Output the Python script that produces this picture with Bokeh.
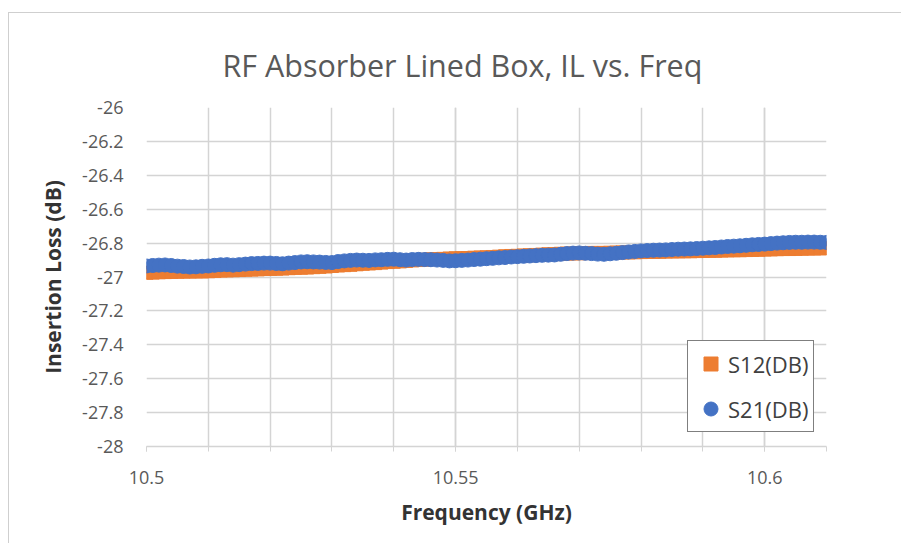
import numpy as np
from bokeh.plotting import figure
from bokeh.models import Range1d, FixedTicker, CustomJSTickFormatter, Legend, LegendItem
from bokeh.embed import file_html
from bokeh.resources import INLINE

# ---- data ----
freq_start = 10.5
freq_stop = 10.61
s12_db = [
    -26.975, -26.974, -26.972, -26.971, -26.970, -26.969, -26.968, -26.968, -26.967, -26.967,
    -26.966, -26.964, -26.962, -26.961, -26.960, -26.959, -26.957, -26.956, -26.955, -26.953,
    -26.952, -26.951, -26.950, -26.948, -26.946, -26.945, -26.944, -26.942, -26.940, -26.938,
    -26.935, -26.932, -26.930, -26.928, -26.925, -26.922, -26.920, -26.918, -26.915, -26.912,
    -26.910, -26.908, -26.905, -26.902, -26.900, -26.898, -26.895, -26.894, -26.893, -26.891,
    -26.890, -26.889, -26.888, -26.886, -26.885, -26.884, -26.882, -26.880, -26.878, -26.876,
    -26.875, -26.873, -26.872, -26.870, -26.868, -26.866, -26.865, -26.863, -26.862, -26.861,
    -26.860, -26.859, -26.858, -26.858, -26.858, -26.857, -26.856, -26.855, -26.855, -26.854,
    -26.853, -26.852, -26.852, -26.851, -26.850, -26.849, -26.849, -26.848, -26.848, -26.847,
    -26.846, -26.845, -26.845, -26.844, -26.843, -26.842, -26.842, -26.841, -26.840, -26.839,
    -26.838, -26.837, -26.836, -26.835, -26.835, -26.834, -26.833, -26.832, -26.832, -26.831,
    -26.830,
]
s21_db = [
    -26.935, -26.932, -26.930, -26.929, -26.932, -26.936, -26.938, -26.941, -26.940, -26.937,
    -26.935, -26.931, -26.928, -26.927, -26.930, -26.927, -26.924, -26.921, -26.920, -26.918,
    -26.918, -26.920, -26.922, -26.918, -26.915, -26.911, -26.910, -26.911, -26.912, -26.914,
    -26.915, -26.909, -26.905, -26.902, -26.900, -26.901, -26.902, -26.899, -26.898, -26.896,
    -26.895, -26.898, -26.900, -26.897, -26.896, -26.897, -26.898, -26.900, -26.902, -26.905,
    -26.904, -26.902, -26.900, -26.897, -26.895, -26.892, -26.890, -26.887, -26.885, -26.882,
    -26.880, -26.878, -26.876, -26.874, -26.872, -26.871, -26.870, -26.866, -26.862, -26.859,
    -26.858, -26.860, -26.862, -26.865, -26.866, -26.863, -26.860, -26.856, -26.852, -26.849,
    -26.846, -26.844, -26.842, -26.841, -26.840, -26.838, -26.836, -26.835, -26.834, -26.832,
    -26.830, -26.828, -26.826, -26.823, -26.820, -26.818, -26.816, -26.813, -26.810, -26.808,
    -26.806, -26.803, -26.800, -26.798, -26.796, -26.795, -26.795, -26.794, -26.794, -26.795,
    -26.796,
]
freq_ghz = np.linspace(freq_start, freq_stop, len(s21_db))

y_ticks = [-28.0, -27.8, -27.6, -27.4, -27.2, -27.0, -26.8, -26.6, -26.4, -26.2, -26.0]
x_major_ticks = [10.5, 10.55, 10.6]
x_minor_ticks = [10.5, 10.51, 10.52, 10.53, 10.54, 10.55, 10.56, 10.57, 10.58, 10.59, 10.6, 10.61]

title_text = "RF Absorber Lined Box, IL vs. Freq"
x_title = "Frequency (GHz)"
y_title = "Insertion Loss (dB)"

FONT = "Open Sans"
GRID = "#d4d4d4"

p = figure(width=893, height=531,
           x_range=Range1d(freq_start, freq_stop), y_range=Range1d(-28, -26),
           output_backend="svg", toolbar_location=None,
           min_border_left=137, min_border_right=76,
           min_border_top=94, min_border_bottom=98,
           title=title_text)
p.styles = {"border-top": "1px solid #cfcfcf", "border-left": "1px solid #cfcfcf",
            "border-right": "none", "border-bottom": "none",
            "margin-top": "12px", "margin-left": "8px"}
p.outline_line_color = None
p.background_fill_color = "white"
p.border_fill_color = "white"

p.title.align = "left"
p.title.offset = 76
p.title.standoff = 44
p.title.text_font = FONT
p.title.text_font_size = "30.5px"
p.title.text_font_style = "normal"
p.title.text_color = "#595959"

fmt = CustomJSTickFormatter(code="return tick.toFixed(2).replace(/0+$/,'').replace(/\\.$/,'');")

# x axis
xa = p.xaxis[0]
xa.ticker = FixedTicker(ticks=x_major_ticks, minor_ticks=x_minor_ticks)
xa.formatter = fmt
xa.axis_line_color = GRID
xa.axis_line_width = 1.5
xa.major_tick_line_color = GRID
xa.minor_tick_line_color = GRID
xa.major_tick_out = 5
xa.major_tick_in = 0
xa.minor_tick_out = 5
xa.minor_tick_in = 0
xa.major_label_text_font = FONT
xa.major_label_text_font_size = "18px"
xa.major_label_text_color = "#595959"
xa.major_label_standoff = 19
xa.axis_label = x_title
xa.axis_label_text_font = FONT
xa.axis_label_text_font_size = "21px"
xa.axis_label_text_font_style = "bold"
xa.axis_label_text_color = "#333333"
xa.axis_label_standoff = 11

# y axis
ya = p.yaxis[0]
ya.ticker = FixedTicker(ticks=y_ticks)
ya.formatter = fmt
ya.axis_line_color = None
ya.major_tick_line_color = None
ya.minor_tick_line_color = None
ya.major_label_text_font = FONT
ya.major_label_text_font_size = "18px"
ya.major_label_text_color = "#595959"
ya.major_label_standoff = 17
ya.axis_label = y_title
ya.axis_label_text_font = FONT
ya.axis_label_text_font_size = "21px"
ya.axis_label_text_font_style = "bold"
ya.axis_label_text_color = "#333333"
ya.axis_label_standoff = 12

# grids
p.xgrid.grid_line_color = GRID
p.xgrid.grid_line_width = 1.5
p.xgrid.minor_grid_line_color = GRID
p.xgrid.minor_grid_line_width = 1.5
p.ygrid.grid_line_color = GRID
p.ygrid.grid_line_width = 1.5

r12 = p.scatter(freq_ghz, s12_db, marker="square", size=13,
                fill_color="#ed7d31", line_color="#ed7d31")
r21 = p.scatter(freq_ghz, s21_db, marker="circle", size=14,
                fill_color="#4472c4", line_color="#4472c4")

legend = Legend(items=[LegendItem(label="S12(DB)", renderers=[r12]),
                       LegendItem(label="S21(DB)", renderers=[r21])],
                location=(541, 14))
legend.glyph_width = 35
legend.glyph_height = 35
legend.padding = 5
legend.spacing = 10
legend.label_standoff = 0
legend.label_width = 80
legend.label_text_font = FONT
legend.label_text_font_size = "22px"
legend.label_text_color = "#404040"
legend.border_line_color = "black"
legend.border_line_width = 1.5
legend.background_fill_color = "white"
legend.background_fill_alpha = 1
legend.margin = 0
p.add_layout(legend, "center")

open("out.html", "w").write(file_html(p, INLINE))
